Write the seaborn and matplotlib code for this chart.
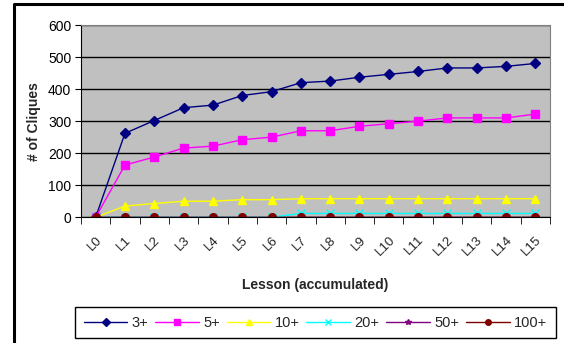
import seaborn as sns
import matplotlib.pyplot as plt
import pandas as pd
from matplotlib.lines import Line2D

# Datos
lecciones = ['L0', 'L1', 'L2', 'L3', 'L4', 'L5', 'L6', 'L7',
             'L8', 'L9', 'L10', 'L11', 'L12', 'L13', 'L14', 'L15']
serie_3 = [0, 262, 302, 342, 350, 380, 392, 420, 425, 437, 446, 455, 466, 466, 471, 480]
serie_5 = [0, 163, 188, 216, 222, 242, 250, 270, 270, 284, 292, 300, 310, 310, 310, 322]
serie_10 = [0, 35, 43, 50, 50, 55, 55, 58, 58, 58, 58, 58, 58, 58, 58, 58]
serie_20 = [0, 0, 0, 0, 0, 0, 0, 12, 12, 12, 12, 12, 12, 12, 12, 12]
serie_50 = [0] * 16
serie_100 = [0] * 16

nombres = ['3+', '5+', '10+', '20+', '50+', '100+']
series = [serie_3, serie_5, serie_10, serie_20, serie_50, serie_100]
colores = ['#000080', '#FF00FF', '#FFFF00', '#00FFFF', '#800080', '#800000']
marcadores = ['D', 's', '^', 'x', '*', 'o']

sns.set_style('white')
plt.rcParams['font.family'] = ['Liberation Sans', 'DejaVu Sans']

fig = plt.figure(figsize=(5.64, 3.43), dpi=100)
ax = fig.add_axes([0.1436, 0.3665, 0.8316, 0.5606])
ax.set_facecolor('#C0C0C0')

# Una línea por serie
for nombre, valores, c, m in zip(nombres, series, colores, marcadores):
    datos = pd.DataFrame({'leccion': lecciones, 'cliques': valores})
    sns.lineplot(data=datos, x='leccion', y='cliques', color=c, marker=m,
                 markersize=5.5, markeredgecolor=c, markeredgewidth=1,
                 linewidth=1, label=nombre, ax=ax)

ax.set_xlim(-0.5, 15.5)
ax.set_ylim(0, 600)
ax.set_yticks(range(0, 601, 100))
ax.yaxis.grid(True, color='black', linewidth=1)
ax.set_axisbelow(True)
ax.set_xticks(range(16))
ax.set_xticklabels(lecciones, rotation=45, ha='right', rotation_mode='anchor', fontsize=9.5)
ax.tick_params(axis='x', length=0, pad=12)
ax.tick_params(axis='y', length=4, direction='out', colors='black', labelsize=10, left=True, pad=3)
# marcas entre categorías, estilo Excel
ax.set_xticks([x - 0.5 for x in range(17)], minor=True)
ax.tick_params(axis='x', which='minor', length=5, direction='out', color='black', bottom=True)
for lado in ['top', 'right']:
    ax.spines[lado].set_color('#808080')
for lado in ['left', 'bottom']:
    ax.spines[lado].set_color('black')

ax.set_xlabel('Lesson (accumulated)', fontsize=10, fontweight='bold', labelpad=14)
ax.set_ylabel('# of Cliques', fontsize=10, fontweight='bold', labelpad=5)

# Leyenda con marcadores pequeños, como en Excel
handles = [Line2D([], [], color=c, marker=m, markersize=4, markeredgecolor=c, linewidth=1)
           for c, m in zip(colores, marcadores)]
ax.legend(handles, nombres, loc='upper left', bbox_to_anchor=(-0.0128, -0.566, 1.0256, 0.1),
          mode='expand', ncol=6, frameon=True, fancybox=False, edgecolor='black',
          fontsize=10.5, handlelength=3, handletextpad=0.3, borderpad=0.6,
          borderaxespad=0, framealpha=1)
ax.get_legend().get_frame().set_linewidth(1)

# Borde exterior de la figura (izquierda y arriba)
fig.add_artist(Line2D([13.5 / 564, 13.5 / 564, 1], [0, 1 - 3.5 / 343, 1 - 3.5 / 343],
                      color='black', linewidth=2.2, transform=fig.transFigure))

plt.savefig('out.png', dpi=100)
